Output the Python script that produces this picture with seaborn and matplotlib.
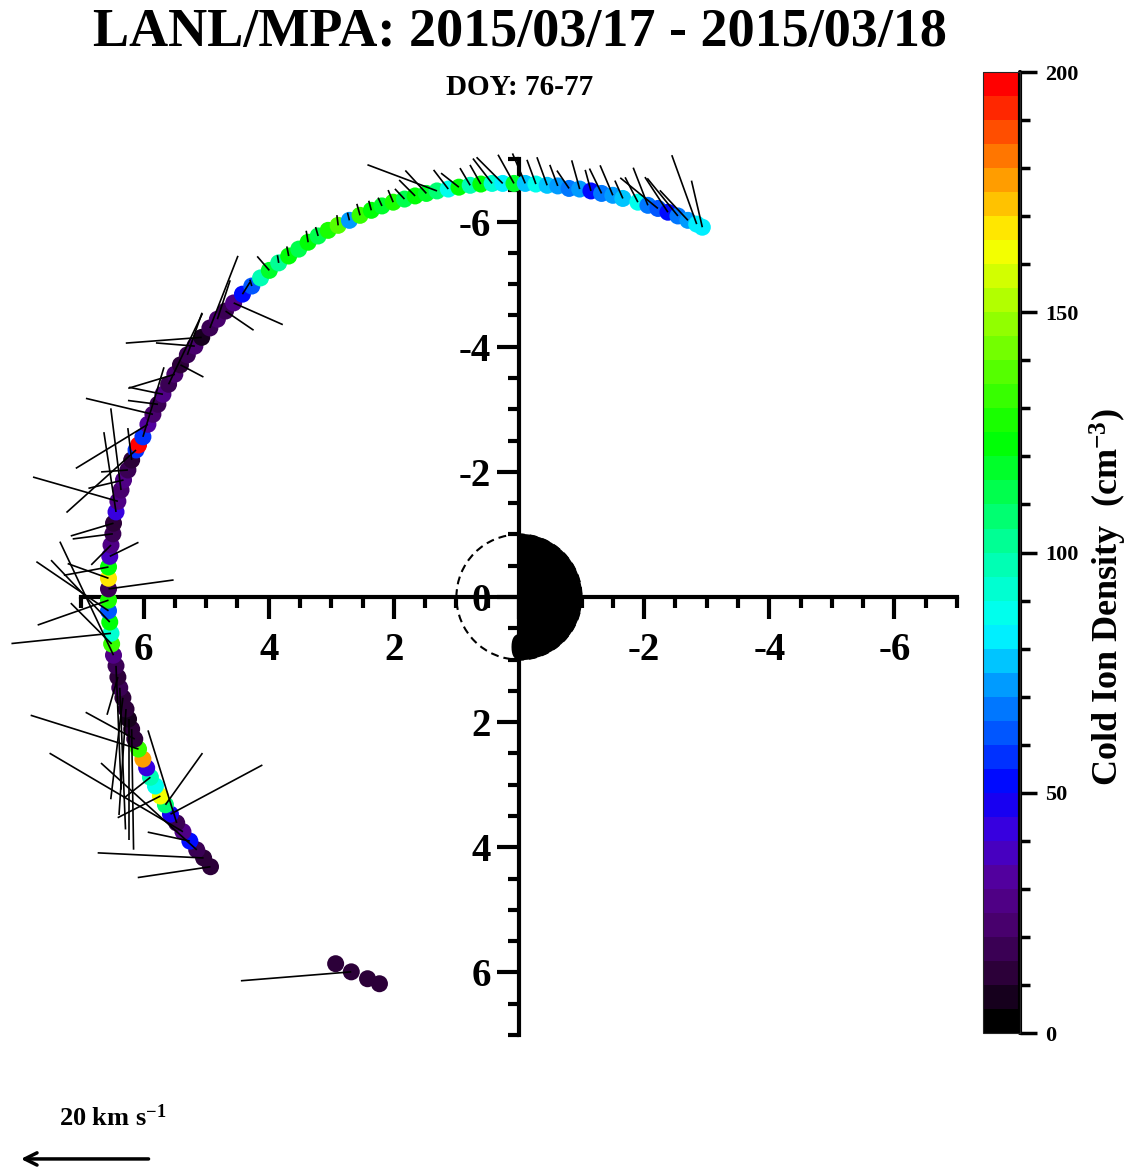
import numpy as np
import pandas as pd
import matplotlib
matplotlib.use('Agg')
import matplotlib.pyplot as plt
import seaborn as sns
from matplotlib.collections import LineCollection
from matplotlib.colors import LinearSegmentedColormap, Normalize
from matplotlib.patches import Wedge, Circle
from matplotlib.ticker import MultipleLocator
import matplotlib.cm as cm

# Style first, then fonts (set_style resets font.family)
sns.set_style('white')
plt.rcParams.update({
    'font.family': ['Liberation Serif', 'DejaVu Serif'],
    'font.weight': 'bold',
    'text.color': 'black',
    'axes.labelcolor': 'black',
    'xtick.color': 'black',
    'ytick.color': 'black',
    'axes.unicode_minus': False,
    'mathtext.fontset': 'custom',
    'mathtext.rm': 'Liberation Serif:bold',
    'mathtext.bf': 'Liberation Serif:bold',
    'mathtext.default': 'bf',
})

# Orbit positions (Re)
orbit_x = [4.93, 5.04, 5.15, 5.26, 5.37, 5.47, 5.57, 5.65, 5.73, 5.81,
           5.89, 5.95, 6.01, 6.08, 6.14, 6.19, 6.24, 6.28, 6.33, 6.38,
           6.41, 6.44, 6.48, 6.51, 6.52, 6.54, 6.56, 6.56, 6.56, 6.56,
           6.56, 6.54, 6.52, 6.49, 6.48, 6.44, 6.41, 6.36, 6.32, 6.25,
           6.19, 6.12, 6.08, 6.01, 5.93, 5.85, 5.77, 5.69, 5.60, 5.50,
           5.41, 5.30, 5.18, 5.07, 4.94, 4.82, 4.69, 4.56, 4.42, 4.27,
           4.13, 3.99, 3.84, 3.68, 3.52, 3.37, 3.21, 3.05, 2.89, 2.71,
           2.54, 2.36, 2.19, 2.01, 1.83, 1.66, 1.48, 1.31, 1.13, 0.96,
           0.78, 0.61, 0.43, 0.26, 0.08, -0.10, -0.27, -0.45, -0.62, -0.80,
           -0.97, -1.15, -1.32, -1.50, -1.66, -1.90, -2.06, -2.22, -2.38, -2.54,
           -2.70, -2.84, -2.93]
orbit_y = [4.31, 4.17, 4.04, 3.90, 3.75, 3.61, 3.47, 3.32, 3.18, 3.02,
           2.88, 2.73, 2.59, 2.43, 2.27, 2.11, 1.95, 1.79, 1.61, 1.45,
           1.28, 1.10, 0.93, 0.75, 0.58, 0.40, 0.22, 0.05, -0.13, -0.30,
           -0.48, -0.65, -0.83, -1.01, -1.18, -1.36, -1.53, -1.71, -1.87, -2.03,
           -2.19, -2.35, -2.43, -2.56, -2.76, -2.92, -3.08, -3.24, -3.40, -3.56,
           -3.71, -3.87, -4.01, -4.15, -4.30, -4.44, -4.57, -4.70, -4.84, -4.97,
           -5.10, -5.22, -5.34, -5.45, -5.56, -5.67, -5.77, -5.86, -5.94, -6.02,
           -6.10, -6.18, -6.25, -6.31, -6.36, -6.41, -6.45, -6.49, -6.52, -6.55,
           -6.58, -6.60, -6.61, -6.61, -6.61, -6.61, -6.60, -6.58, -6.57, -6.53,
           -6.52, -6.49, -6.45, -6.42, -6.37, -6.31, -6.26, -6.21, -6.15, -6.09,
           -6.02, -5.96, -5.91]
# Cold ion density (cm^-3)
density = [10, 12, 15, 50, 25, 15, 45, 105, 160, 85,
           95, 40, 175, 130, 12, 10, 8, 12, 10, 15,
           12, 18, 25, 130, 90, 120, 60, 125, 15, 165,
           120, 35, 25, 15, 12, 40, 28, 22, 25, 15,
           12, 55, 200, 55, 30, 20, 18, 25, 15, 22,
           10, 18, 20, 8, 15, 22, 18, 25, 50, 62,
           95, 115, 100, 120, 110, 122, 112, 125, 138, 72,
           130, 122, 118, 126, 112, 124, 118, 105, 88, 120,
           98, 124, 92, 82, 118, 75, 88, 76, 72, 68,
           70, 52, 68, 72, 76, 88, 68, 62, 50, 66,
           72, 80, 84]
# Flow velocity (km/s), same order as the orbit points
vel_x = [11.4, 16.6, 15.0, 6.6, 20.9, 4.5, -14.4, -5.8, 6.7, 0.0,
         4.2, 0.0, 0.0, 16.9, 7.7, -0.3, 0.0, 1.1, 1.9, -0.9,
         1.7, -0.8, 8.4, 6.4, 15.6, 9.2, 11.3, 11.1, -10.2, 6.4,
         7.0, -4.5, 3.1, 6.3, 6.7, 1.9, 13.3, 1.6, 5.5, 4.2,
         0.6, 10.9, 0.0, -3.3, 11.3, 10.5, 4.7, 5.3, -5.3, 7.3,
         -3.6, -2.3, 6.1, 11.9, -4.4, -2.0, -4.4, -7.7, -1.2, 0.3,
         0.0, 1.9, 0.2, 0.3, 0.0, 0.3, 0.4, 0.0, 0.2, 0.3,
         0.5, 0.4, 0.6, 0.8, 1.5, 2.5, 3.3, 10.9, 2.3, 2.8,
         1.6, 1.7, 3.0, 4.1, 2.5, 2.0, 1.4, 1.6, 1.25, 1.9,
         1.25, 0.9, 1.9, 2.0, 1.25, 2.0, 2.3, 5.9, 3.6, 4.8,
         4.4, 3.9, 1.7]
vel_y = [1.7, -0.8, -13.6, -1.4, -12.3, -14.5, -7.7, -8.1, 3.4, 0.0,
         3.3, 0.0, 0.0, -5.3, -4.2, 18.9, 18.9, 16.6, 15.9, 22.2,
         5.9, 19.4, -17.8, -6.4, 1.6, -9.7, -7.7, 3.9, -1.4, -2.3,
         1.3, -2.2, 3.1, 0.8, 2.0, -12.5, -3.8, -12.8, 1.3, 0.3,
         -5.0, 9.8, 0.0, -10.9, 6.9, -2.5, -0.6, -1.1, -11.1, 2.2,
         1.9, -6.6, -0.5, 0.9, -11.3, -6.1, 3.0, 3.4, -1.9, -1.0,
         0.0, -2.2, -1.2, -1.5, 0.0, -1.8, -1.4, 0.0, -1.6, -1.2,
         -1.8, -1.5, -1.3, -1.9, -1.6, -2.5, -3.6, -4.1, -3.0, -2.2,
         -2.7, -3.0, -3.9, -4.1, -4.5, -4.7, -3.8, -4.4, -3.3, -2.8,
         -4.5, -3.3, -3.9, -4.7, -2.8, -3.9, -5.9, -4.8, -5.5, -5.9,
         -4.7, -10.8, -7.3]

# Isolated points at the end of the interval
tail_x = [2.93, 2.68, 2.42, 2.23]
tail_y = [5.86, 5.99, 6.10, 6.18]
tail_density = [10, 10, 10, 12]
tail_vx = [0.0, 17.3, 0.0, 0.0]
tail_vy = [0.0, 1.4, 0.0, 0.0]

xtick_values = [6, 4, 2, 0, -2, -4, -6]
ytick_values = [-6, -4, -2, 0, 2, 4, 6]
cbar_ticks = [0, 50, 100, 150, 200]

VEL_REF = 20.0            # km/s of the reference arrow
VSCALE = 2.04 / VEL_REF   # Re per km/s

# IDL-like rainbow with black bottom, 40 discrete levels
cmap = LinearSegmentedColormap.from_list('idl_rainbow', [
    (0.00, (0.00, 0.00, 0.00)),
    (0.05, (0.17, 0.00, 0.22)),
    (0.10, (0.28, 0.00, 0.42)),
    (0.15, (0.33, 0.00, 0.60)),
    (0.20, (0.24, 0.00, 0.86)),
    (0.25, (0.00, 0.00, 1.00)),
    (0.30, (0.00, 0.30, 1.00)),
    (0.35, (0.00, 0.55, 1.00)),
    (0.42, (0.00, 1.00, 1.00)),
    (0.50, (0.00, 1.00, 0.65)),
    (0.62, (0.00, 1.00, 0.00)),
    (0.75, (0.60, 1.00, 0.00)),
    (0.83, (1.00, 1.00, 0.00)),
    (0.90, (1.00, 0.60, 0.00)),
    (1.00, (1.00, 0.00, 0.00)),
], N=40)
norm = Normalize(0, 200)

orbit = pd.DataFrame({'x': orbit_x, 'y': orbit_y, 'density': density,
                      'vx': vel_x, 'vy': vel_y})
tail = pd.DataFrame({'x': tail_x, 'y': tail_y, 'density': tail_density,
                     'vx': tail_vx, 'vy': tail_vy})

fig = plt.figure(figsize=(11.39, 11.71), dpi=100)
ax = fig.add_axes([0.0702, 0.1161, 0.7709, 0.7481])
cax = fig.add_axes([0.863, 0.1178, 0.0325, 0.8207])

# Earth: dashed outline, night side filled
ax.add_patch(Circle((0, 0), 1, fill=False, ls=(0, (3.8, 2.4)), lw=1.5,
                    color='k', zorder=3))
ax.add_patch(Wedge((0, 0), 1, 90, 270, color='k', zorder=6))

for d in (orbit, tail):
    sns.scatterplot(data=d, x='x', y='y', hue='density', palette=cmap,
                    hue_norm=(0, 200), s=150, linewidth=0, legend=False,
                    ax=ax, zorder=4)
    starts = d[['x', 'y']].to_numpy()
    ends = starts + d[['vx', 'vy']].to_numpy() * VSCALE
    lc = LineCollection(np.stack([starts, ends], axis=1), colors='k',
                        linewidths=1.2, zorder=5)
    lc.set_clip_on(False)
    ax.add_collection(lc)

ax.set_xlim(7, -7)
ax.set_ylim(7, -7)
ax.set_aspect('equal')
ax.set_xlabel('')
ax.set_ylabel('')
for s in ['top', 'right']:
    ax.spines[s].set_visible(False)
for s in ['left', 'bottom']:
    ax.spines[s].set_position(('data', 0))
    ax.spines[s].set_linewidth(3)
    ax.spines[s].set_color('k')
ax.set_xticks(xtick_values)
ax.set_xticklabels([str(v) for v in xtick_values])
ax.set_yticks(ytick_values)
ax.set_yticklabels([str(v) for v in ytick_values])
ax.xaxis.set_minor_locator(MultipleLocator(0.5))
ax.yaxis.set_minor_locator(MultipleLocator(0.5))
ax.tick_params(which='both', bottom=True, left=True, top=False, right=False)
ax.tick_params(which='major', direction='out', length=16, width=3,
               labelsize=28, color='k')
ax.tick_params(which='minor', direction='out', length=8, width=3, color='k')
ax.tick_params(axis='x', pad=9)
ax.tick_params(axis='y', pad=4)
ax.grid(False)

# Reference arrow for the velocity scale
x0 = 5.92
ax.annotate('', xy=(x0 + VEL_REF * VSCALE, 8.98), xytext=(x0, 8.98),
            arrowprops=dict(arrowstyle='->', lw=2.5, color='k',
                            mutation_scale=22, shrinkA=0, shrinkB=0),
            annotation_clip=False)
fig.text(113 / 1139, 1 - 1118 / 1171, '20 km s$^{-1}$', ha='center',
         va='center', fontsize=19)

# Colorbar
sm = cm.ScalarMappable(norm=norm, cmap=cmap)
cbar = fig.colorbar(sm, cax=cax, ticks=cbar_ticks)
cbar.ax.yaxis.set_minor_locator(MultipleLocator(10))
cax.tick_params(which='both', right=True, left=False, direction='out',
                color='k')
cax.tick_params(which='major', length=12, width=2.5, labelsize=16, pad=6)
cax.tick_params(which='minor', length=7, width=2.5)
cbar.outline.set_linewidth(0.8)
cax.plot([1, 1], [0, 1], transform=cax.transAxes, lw=3, color='k',
         clip_on=False)
fig.text(1108 / 1139, 1 - 597 / 1171, 'Cold Ion Density  (cm$^{-3}$)',
         rotation=90, ha='center', va='center', fontsize=26)

fig.text(0.4565, 0.9718, 'LANL/MPA: 2015/03/17 - 2015/03/18',
         ha='center', va='center', fontsize=39)
fig.text(0.4565, 0.9249, 'DOY: 76-77', ha='center', va='center', fontsize=21)

fig.savefig('out.png', dpi=100)
